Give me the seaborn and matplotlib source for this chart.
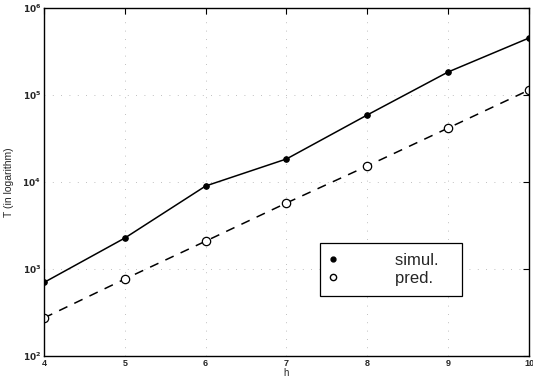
import numpy as np
import pandas as pd
import matplotlib
matplotlib.use("Agg")
import matplotlib.pyplot as plt
import seaborn as sns
from matplotlib.ticker import LogLocator, FixedLocator, NullLocator, FuncFormatter

h = [4, 5, 6, 7, 8, 9, 10]
simul = [700, 2270, 9000, 18400, 59000, 184000, 452000]
pred = [274, 767, 2090, 5740, 15300, 41700, 114000]

sns.set_theme(style="white")
plt.rcParams['font.family'] = ['Liberation Sans', 'DejaVu Sans']

df = pd.DataFrame({"h": h + h, "T": simul + pred,
                   "series": ["simul."] * len(h) + ["pred."] * len(h)})

fig = plt.figure(figsize=(5.33, 3.79), dpi=100)
ax = fig.add_axes([44 / 533, 1 - 356 / 379, 485 / 533, 348 / 379])

d_s = df[df.series == "simul."]
d_p = df[df.series == "pred."]
sns.lineplot(data=d_s, x="h", y="T", ax=ax, color="black", lw=1.1,
             marker="o", markersize=4, markerfacecolor="black",
             markeredgecolor="black", legend=False)
sns.lineplot(data=d_p, x="h", y="T", ax=ax, color="black", lw=1.1,
             linestyle=(0, (6, 5)), marker="o", markersize=6,
             markerfacecolor="white", markeredgecolor="black",
             markeredgewidth=0.9, legend=False)

ax.set_yscale("log")
ax.set_xlim(4, 10)
ax.set_ylim(1e2, 1e6)
ax.xaxis.set_major_locator(FixedLocator(h))
ax.yaxis.set_major_locator(LogLocator(base=10, numticks=10))
ax.yaxis.set_minor_locator(NullLocator())


def dec(v, pos):
    return r"$\mathbf{10^{%d}}$" % int(round(np.log10(v)))


ax.yaxis.set_major_formatter(FuncFormatter(dec))
ax.tick_params(axis="both", direction="in", length=4, width=0.8,
               labelsize=6.5, top=True, right=True, pad=2, color="black")
for lab in ax.get_xticklabels():
    lab.set_fontweight("bold")
ax.grid(True, which="major", linestyle=(0, (1, 9)), color="#aaaaaa", lw=0.6)
for s in ax.spines.values():
    s.set_color("black")
    s.set_linewidth(1.0)

ax.set_xlabel("h", fontsize=7, labelpad=0.5)
ax.set_ylabel("T (in logarithm)", fontsize=7.5, labelpad=6)

# legend with markers only
handles = [
    plt.Line2D([], [], ls="none", marker="o", markersize=3.5,
               markerfacecolor="black", markeredgecolor="black"),
    plt.Line2D([], [], ls="none", marker="o", markersize=4.5,
               markerfacecolor="white", markeredgecolor="black"),
]
leg = ax.legend(handles, ["simul.   ", "pred.   "], loc="upper left",
                bbox_to_anchor=((320 - 44) / 485, (356 - 243) / 348),
                fontsize=12, frameon=True, fancybox=False, framealpha=1,
                edgecolor="black", borderpad=0.6, labelspacing=0.15,
                handletextpad=3.5, handlelength=0.4, borderaxespad=0)
leg.get_frame().set_linewidth(0.9)

fig.savefig("out.png", dpi=100)
